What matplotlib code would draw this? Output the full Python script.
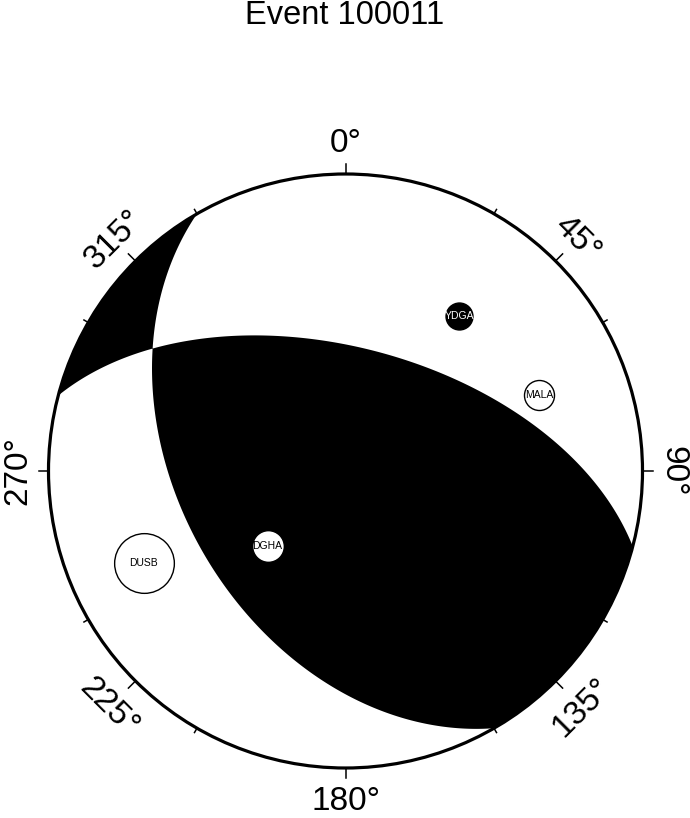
import numpy as np
import matplotlib
matplotlib.use("Agg")
import matplotlib.pyplot as plt
from matplotlib.patches import Circle

plt.rcParams['font.family'] = ['Liberation Sans', 'DejaVu Sans']

title = "Event 100011"

# focal mechanism (nodal plane 1)
strike, dip, rake = 150.0, 44.0, 126.0

# stations: azimuth, take-off angle (deg), polarity (1 = up), symbol size (pt)
stations = ["YDGA", "MALA", "DGHA", "DUSB"]
st_azimuth = [36.3, 68.6, 226.2, 245.5]
st_takeoff = [54.4, 59.3, 29.8, 63.8]
st_polarity = [1, -1, -1, -1]
st_size = [19.4, 21.6, 22.8, 43.0]

az_labels = [0, 45, 90, 135, 180, 225, 270, 315]


def moment_tensor(phi, delta, lam):
    phi, delta, lam = np.radians([phi, delta, lam])
    mxx = -(np.sin(delta) * np.cos(lam) * np.sin(2 * phi)
            + np.sin(2 * delta) * np.sin(lam) * np.sin(phi) ** 2)
    mxy = (np.sin(delta) * np.cos(lam) * np.cos(2 * phi)
           + 0.5 * np.sin(2 * delta) * np.sin(lam) * np.sin(2 * phi))
    mxz = -(np.cos(delta) * np.cos(lam) * np.cos(phi)
            + np.cos(2 * delta) * np.sin(lam) * np.sin(phi))
    myy = (np.sin(delta) * np.cos(lam) * np.sin(2 * phi)
           - np.sin(2 * delta) * np.sin(lam) * np.cos(phi) ** 2)
    myz = -(np.cos(delta) * np.cos(lam) * np.sin(phi)
            - np.cos(2 * delta) * np.sin(lam) * np.cos(phi))
    mzz = np.sin(2 * delta) * np.sin(lam)
    return np.array([[mxx, mxy, mxz], [mxy, myy, myz], [mxz, myz, mzz]])


def project(az, takeoff):
    # lower hemisphere equal area
    r = np.sqrt(2) * np.sin(np.radians(takeoff) / 2)
    a = np.radians(az)
    return r * np.sin(a), r * np.cos(a)


W, H = 690, 818
cx, cy, R = 345.5, 471.0, 297.0

fig = plt.figure(figsize=(W / 100, H / 100), dpi=100)
ax = fig.add_axes([0, 0, 1, 1])
ax.set_xlim(-cx / R, (W - cx) / R)
ax.set_ylim(-(H - cy) / R, cy / R)
ax.axis('off')

# beachball
M = moment_tensor(strike, dip, rake)
xs = np.linspace(-1.02, 1.02, 1201)
X, Y = np.meshgrid(xs, xs)
rr = np.clip(np.hypot(X, Y), 0, np.sqrt(2))
inc = 2 * np.arcsin(rr / np.sqrt(2))
az = np.arctan2(X, Y)
v = np.stack([np.sin(inc) * np.cos(az), np.sin(inc) * np.sin(az), np.cos(inc)])
amp = np.einsum('i...,ij,j...->...', v, M, v)

clip = Circle((0, 0), 1, transform=ax.transData, fc='none', ec='none')
ax.add_patch(clip)
cs = ax.contourf(X, Y, amp, levels=[0, amp.max() + 1], colors='black', antialiased=True)
cs.set_clip_path(clip)

ax.add_patch(Circle((0, 0), 1, fill=False, ec='black', lw=2.3, zorder=5))

# ticks and azimuth labels
for a in range(0, 360, 15):
    if a % 45 == 0:
        ln = 10 / R
    elif a % 30 == 0:
        ln = 5 / R
    else:
        continue
    s, c = np.sin(np.radians(a)), np.cos(np.radians(a))
    ax.plot([s, (1 + ln) * s], [c, (1 + ln) * c], color='black', lw=1.1, zorder=5)

for a in az_labels:
    s, c = np.sin(np.radians(a)), np.cos(np.radians(a))
    if a <= 90:
        rot = -a
    elif a < 270:
        rot = 180 - a
    else:
        rot = 360 - a
    # text tops point outward for these, inward for the lower ones
    if a in (135, 225):
        rl = 334.3 / R
    elif a == 180:
        rl = 331.0 / R
    else:
        rl = 327.7 / R
    ax.text(rl * s, rl * c, f"{a}°", rotation=rot, ha='center', va='center',
            rotation_mode='anchor', fontsize=24)

# stations
for name, a, t, p, sz in zip(stations, st_azimuth, st_takeoff, st_polarity, st_size):
    x, y = project(a, t)
    fc = 'black' if p > 0 else 'white'
    tc = 'white' if p > 0 else 'black'
    ax.plot(x, y, 'o', ms=sz, mfc=fc, mec='black', mew=1.0, zorder=6)
    ax.text(x, y, name, ha='center', va='center', fontsize=7.5, color=tc, zorder=7)

fig.text(0.5, 1 - 15 / H, title, ha='center', va='center', fontsize=23.5)

fig.savefig("out.png", dpi=100)
